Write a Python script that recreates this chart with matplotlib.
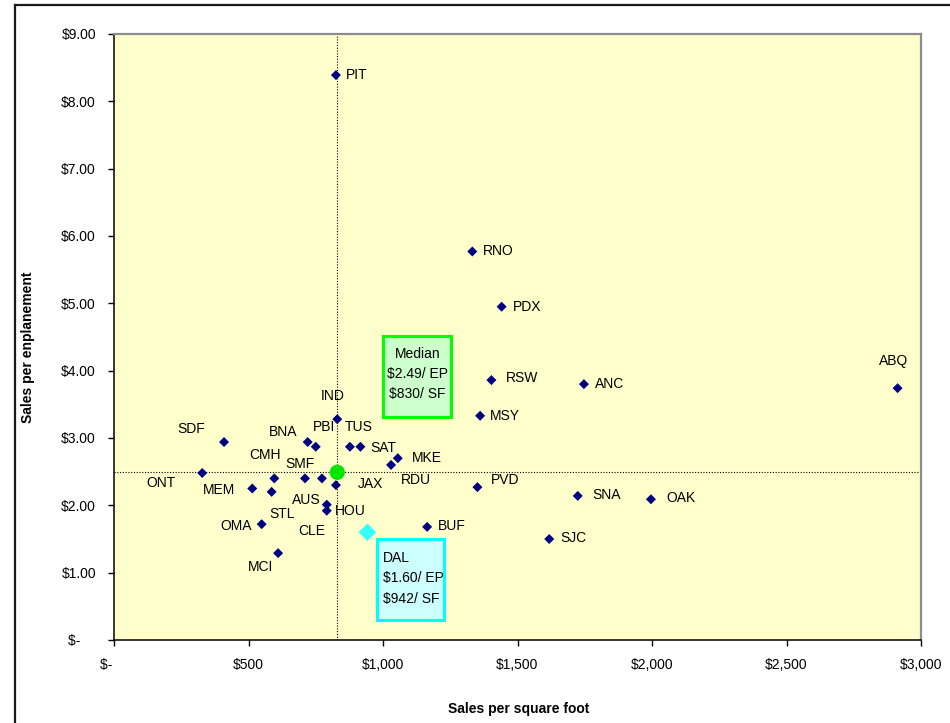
import matplotlib
matplotlib.use("Agg")
import matplotlib.pyplot as plt
from matplotlib.lines import Line2D
from matplotlib.patches import Rectangle
from matplotlib.ticker import FixedLocator, FuncFormatter

plt.rcParams["font.family"] = ["Liberation Sans", "DejaVu Sans"]

# Airport sales productivity
airports = ["PIT", "RNO", "PDX", "RSW", "ANC", "ABQ", "MSY", "IND", "SDF", "BNA",
            "PBI", "TUS", "SAT", "MKE", "RDU", "ONT", "CMH", "SMF", "CLE", "JAX",
            "MEM", "STL", "AUS", "HOU", "OMA", "BUF", "MCI", "PVD", "SJC", "SNA", "OAK"]
sales_per_sqft = [825, 1332, 1441, 1403, 1747, 2913, 1361, 830, 409, 720,
                  750, 877, 916, 1055, 1030, 328, 596, 710, 773, 825,
                  514, 586, 791, 791, 549, 1164, 610, 1351, 1618, 1724, 1996]
sales_per_enpl = [8.39, 5.77, 4.95, 3.86, 3.80, 3.74, 3.33, 3.28, 2.94, 2.94,
                  2.87, 2.87, 2.87, 2.70, 2.60, 2.48, 2.40, 2.40, 2.40, 2.30,
                  2.25, 2.20, 2.01, 1.92, 1.72, 1.68, 1.29, 2.27, 1.50, 2.14, 2.09]

median_sqft, median_enpl = 830, 2.49
dal_sqft, dal_enpl = 942, 1.60

x_ticks = [0, 500, 1000, 1500, 2000, 2500, 3000]
y_ticks = [0, 1, 2, 3, 4, 5, 6, 7, 8, 9]

# label offsets (pixels) from each marker
label_offsets = {
    "PIT": (21, 0), "RNO": (26, 0), "PDX": (25, 0), "RSW": (31, 2), "ANC": (26, 0),
    "ABQ": (-4, 27), "MSY": (25, 0), "IND": (-5, 23), "SDF": (-33, 13), "BNA": (-25, 10),
    "PBI": (8, 20), "TUS": (9, 20), "SAT": (23, -1), "MKE": (29, 0), "RDU": (25, -15),
    "ONT": (-41, -10), "CMH": (-9, 23), "SMF": (-5, 14), "CLE": (-10, -53), "JAX": (35, 1),
    "MEM": (-33, -1), "STL": (10, -22), "AUS": (-20, 5), "HOU": (24, 0), "OMA": (-26, -2),
    "BUF": (25, 1), "MCI": (-18, -14), "PVD": (28, 7), "SJC": (24, 1), "SNA": (29, 1),
    "OAK": (30, 1),
}

W, H = 950, 723
fig = plt.figure(figsize=(W / 100, H / 100), dpi=100)
fig.patch.set_facecolor("white")

# chart frame (left and top edges visible)
fig.add_artist(Line2D([15 / W, 15 / W], [0, 1 - 5 / H], transform=fig.transFigure,
                      color="#1a1a1a", lw=1.6))
fig.add_artist(Line2D([15 / W, 1], [1 - 5 / H, 1 - 5 / H], transform=fig.transFigure,
                      color="#1a1a1a", lw=1.6))

ax = fig.add_axes([114 / W, 1 - 640 / H, (921 - 114) / W, (640 - 34) / H])
ax.set_facecolor("#FFFFCC")
ax.set_xlim(0, 3000)
ax.set_ylim(0, 9)

for side in ("top", "right"):
    ax.spines[side].set_color("#8c8c8c")
    ax.spines[side].set_linewidth(1.6)
for side in ("left", "bottom"):
    ax.spines[side].set_color("black")
    ax.spines[side].set_linewidth(1.1)

ax.xaxis.set_major_locator(FixedLocator(x_ticks))
ax.yaxis.set_major_locator(FixedLocator(y_ticks))


def fmt_x(v, pos):
    return "$-    " if v == 0 else "${:,.0f}".format(v)


def fmt_y(v, pos):
    return "$-    " if v == 0 else "${:.2f}".format(v)


ax.xaxis.set_major_formatter(FuncFormatter(fmt_x))
ax.yaxis.set_major_formatter(FuncFormatter(fmt_y))
ax.tick_params(axis="both", direction="out", length=4, width=1, color="black",
               labelsize=10, labelcolor="black", pad=9)

# median reference lines
ax.axvline(median_sqft, color="black", lw=0.8, ls=(0, (1, 1.5)), zorder=1)
ax.axhline(median_enpl, color="black", lw=0.8, ls=(0, (1, 1.5)), zorder=1)

ax.scatter(sales_per_sqft, sales_per_enpl, marker="D", s=26, color="#000080",
           edgecolors="none", zorder=3)
ax.scatter([median_sqft], [median_enpl], marker="o", s=120, color="#00E600",
           edgecolors="none", zorder=4)
ax.scatter([dal_sqft], [dal_enpl], marker="D", s=80, color="#33FFFF",
           edgecolors="none", zorder=4)

for name, xv, yv in zip(airports, sales_per_sqft, sales_per_enpl):
    dx, dy = label_offsets[name]
    ax.annotate(name, (xv, yv), xytext=(dx, dy), textcoords="offset pixels",
                ha="center", va="center", fontsize=10, color="black", zorder=5)

# callout boxes
ax.add_patch(Rectangle((0.3337, 0.3685), 0.0839, 0.1335, transform=ax.transAxes,
                       facecolor="#CCFFCC", edgecolor="#00FF00", lw=2.2, zorder=5))
ax.text(0.3757, 0.4385,
        "Median\n${:.2f}/ EP\n${:.0f}/ SF".format(median_enpl, median_sqft),
        transform=ax.transAxes, ha="center", va="center", fontsize=10,
        linespacing=1.55, zorder=6)

ax.add_patch(Rectangle((0.3255, 0.033), 0.0838, 0.133, transform=ax.transAxes,
                       facecolor="#CCFFFF", edgecolor="#00FFFF", lw=2.2, zorder=5))
ax.text(0.333, 0.1015,
        "DAL\n${:.2f}/ EP\n${:.0f}/ SF".format(dal_enpl, dal_sqft),
        transform=ax.transAxes, ha="left", va="center", fontsize=10,
        linespacing=1.55, zorder=6)

fig.text(519 / W, 1 - 709 / H, "Sales per square foot", ha="center", va="center",
         fontsize=10, fontweight="bold")
fig.text(28 / W, 1 - 347 / H, "Sales per enplanement", ha="center", va="center",
         rotation=90, fontsize=10, fontweight="bold")

fig.savefig("out.png", dpi=100, facecolor="white")
